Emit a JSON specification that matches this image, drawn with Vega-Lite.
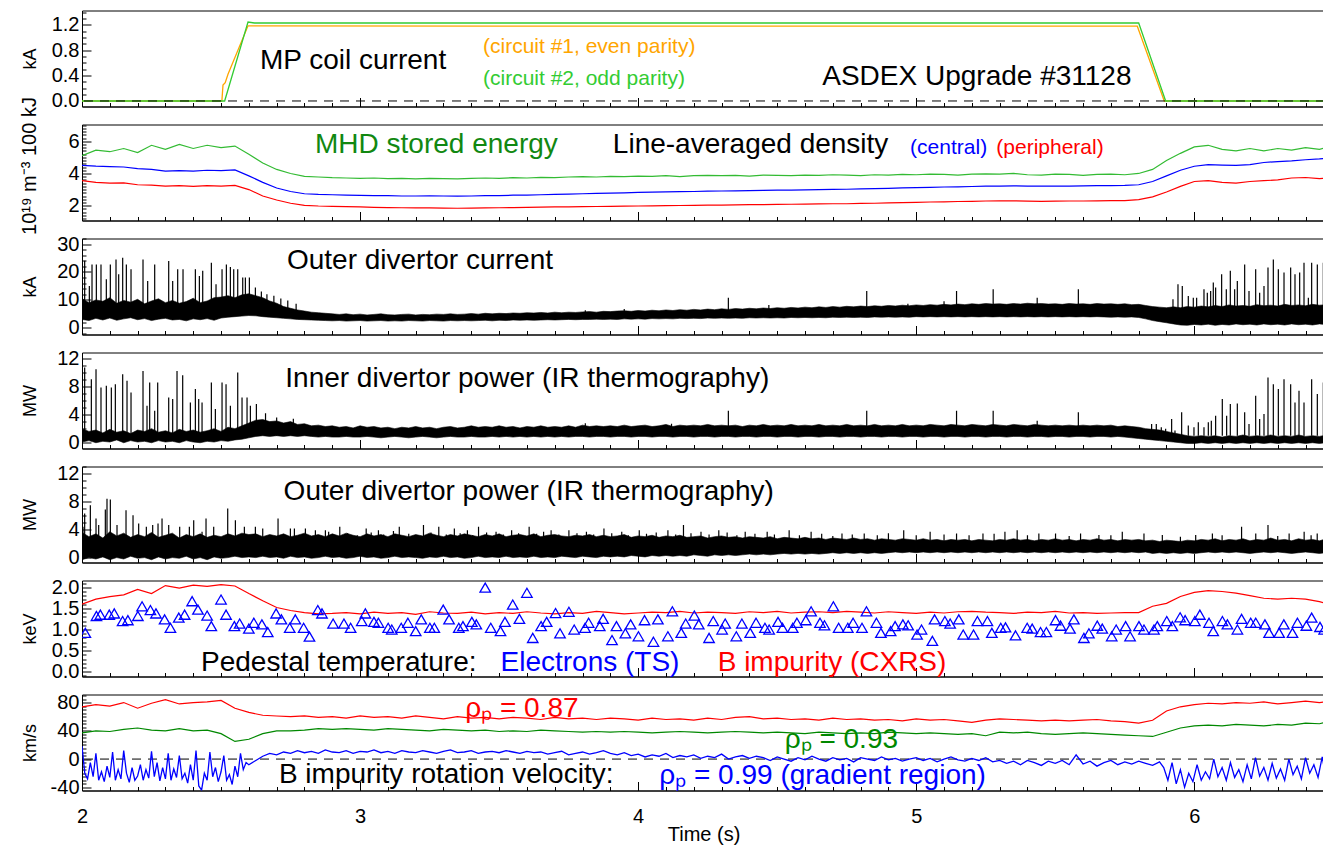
{
"$schema":"https://vega.github.io/schema/vega-lite/v6.json",
"background":"white",
"padding":{"left":18,"top":1.5,"right":0,"bottom":0},
"spacing":18,
"bounds":"flush",
"config":{
"font":"Liberation Sans",
"view":{"stroke":"black","strokeWidth":1},
"axis":{"grid":false,"domainColor":"black","tickColor":"black","labelColor":"black","titleColor":"black","labelFontSize":20,"titleFontSize":18,"titleFontWeight":"normal","labelOverlap":false},
"axisX":{"tickCount":45,"labelFlush":false,"labelPadding":25,"titleFontSize":20,"tickSize":{"condition":{"test":"abs(datum.value-round(datum.value))<0.001","value":-9},"value":-4},"labelExpr":"abs(datum.value-round(datum.value))<0.001 ? ''+round(datum.value) : ''"},
"axisY":{"titleX":-46.5,"titleBaseline":"alphabetic","labelPadding":12}
},
"datasets":{
"mp":[
{"t":2.0,"I":0,"circuit":"#1"},{"t":2.503,"I":0,"circuit":"#1"},{"t":2.507,"I":0.25,"circuit":"#1"},{"t":2.515,"I":0.29,"circuit":"#1"},{"t":2.525,"I":0.42,"circuit":"#1"},{"t":2.597,"I":1.185,"circuit":"#1"},{"t":3.5,"I":1.18,"circuit":"#1"},{"t":4.5,"I":1.18,"circuit":"#1"},{"t":5.795,"I":1.18,"circuit":"#1"},{"t":5.892,"I":0,"circuit":"#1"},{"t":6.47,"I":0,"circuit":"#1"},
{"t":2.0,"I":0,"circuit":"#2"},{"t":2.513,"I":0,"circuit":"#2"},{"t":2.597,"I":1.245,"circuit":"#2"},{"t":2.62,"I":1.23,"circuit":"#2"},{"t":5.8,"I":1.23,"circuit":"#2"},{"t":5.897,"I":0,"circuit":"#2"},{"t":6.47,"I":0,"circuit":"#2"}
],
"s":[
{"t":2.00,"W":5.10,"nc":4.50,"np":3.55,"Ti":1.60,"v87":74,"v93":37},
{"t":2.05,"W":5.45,"nc":4.45,"np":3.45,"Ti":1.72,"v87":77,"v93":40},
{"t":2.10,"W":5.35,"nc":4.42,"np":3.40,"Ti":1.78,"v87":75,"v93":39},
{"t":2.15,"W":5.55,"nc":4.40,"np":3.42,"Ti":1.82,"v87":80,"v93":42},
{"t":2.20,"W":5.30,"nc":4.30,"np":3.30,"Ti":1.95,"v87":72,"v93":44},
{"t":2.25,"W":5.75,"nc":4.25,"np":3.28,"Ti":1.85,"v87":79,"v93":41},
{"t":2.30,"W":5.50,"nc":4.15,"np":3.22,"Ti":2.04,"v87":84,"v93":40},
{"t":2.35,"W":5.80,"nc":4.18,"np":3.25,"Ti":1.98,"v87":78,"v93":43},
{"t":2.40,"W":5.55,"nc":4.14,"np":3.20,"Ti":2.05,"v87":80,"v93":40},
{"t":2.45,"W":5.75,"nc":4.20,"np":3.24,"Ti":2.02,"v87":81,"v93":41},
{"t":2.50,"W":5.60,"nc":4.18,"np":3.22,"Ti":2.06,"v87":83,"v93":36},
{"t":2.55,"W":5.70,"nc":4.22,"np":3.26,"Ti":2.03,"v87":72,"v93":25},
{"t":2.60,"W":5.20,"nc":3.85,"np":3.00,"Ti":1.85,"v87":66,"v93":28},
{"t":2.65,"W":4.65,"nc":3.45,"np":2.60,"Ti":1.68,"v87":62,"v93":36},
{"t":2.70,"W":4.25,"nc":3.10,"np":2.35,"Ti":1.52,"v87":61,"v93":40},
{"t":2.75,"W":4.00,"nc":2.88,"np":2.15,"Ti":1.45,"v87":60,"v93":40},
{"t":2.80,"W":3.82,"nc":2.74,"np":2.02,"Ti":1.40,"v87":61,"v93":41},
{"t":2.85,"W":3.78,"nc":2.70,"np":1.98,"Ti":1.37,"v87":59,"v93":43},
{"t":2.90,"W":3.74,"nc":2.68,"np":1.96,"Ti":1.38,"v87":60,"v93":42},
{"t":2.95,"W":3.72,"nc":2.66,"np":1.94,"Ti":1.40,"v87":58,"v93":43},
{"t":3.00,"W":3.70,"nc":2.64,"np":1.92,"Ti":1.37,"v87":61,"v93":42},
{"t":3.05,"W":3.72,"nc":2.62,"np":1.90,"Ti":1.41,"v87":59,"v93":41},
{"t":3.10,"W":3.68,"nc":2.62,"np":1.88,"Ti":1.38,"v87":60,"v93":43},
{"t":3.15,"W":3.70,"nc":2.60,"np":1.87,"Ti":1.40,"v87":58,"v93":42},
{"t":3.20,"W":3.66,"nc":2.60,"np":1.86,"Ti":1.36,"v87":61,"v93":41},
{"t":3.25,"W":3.70,"nc":2.61,"np":1.86,"Ti":1.42,"v87":59,"v93":40},
{"t":3.30,"W":3.68,"nc":2.60,"np":1.85,"Ti":1.39,"v87":57,"v93":42},
{"t":3.35,"W":3.66,"nc":2.59,"np":1.84,"Ti":1.38,"v87":60,"v93":41},
{"t":3.40,"W":3.70,"nc":2.60,"np":1.85,"Ti":1.41,"v87":58,"v93":40},
{"t":3.45,"W":3.72,"nc":2.62,"np":1.86,"Ti":1.37,"v87":59,"v93":41},
{"t":3.50,"W":3.70,"nc":2.63,"np":1.87,"Ti":1.40,"v87":57,"v93":39},
{"t":3.55,"W":3.74,"nc":2.65,"np":1.88,"Ti":1.38,"v87":59,"v93":40},
{"t":3.60,"W":3.72,"nc":2.66,"np":1.90,"Ti":1.42,"v87":58,"v93":39},
{"t":3.65,"W":3.76,"nc":2.68,"np":1.91,"Ti":1.39,"v87":56,"v93":41},
{"t":3.70,"W":3.74,"nc":2.70,"np":1.92,"Ti":1.37,"v87":59,"v93":40},
{"t":3.75,"W":3.78,"nc":2.72,"np":1.93,"Ti":1.40,"v87":57,"v93":39},
{"t":3.80,"W":3.80,"nc":2.74,"np":1.94,"Ti":1.38,"v87":58,"v93":38},
{"t":3.85,"W":3.78,"nc":2.76,"np":1.95,"Ti":1.43,"v87":56,"v93":39},
{"t":3.90,"W":3.82,"nc":2.78,"np":1.96,"Ti":1.40,"v87":58,"v93":38},
{"t":3.95,"W":3.80,"nc":2.80,"np":1.97,"Ti":1.37,"v87":57,"v93":39},
{"t":4.00,"W":3.84,"nc":2.82,"np":1.98,"Ti":1.39,"v87":55,"v93":38},
{"t":4.05,"W":3.82,"nc":2.84,"np":1.99,"Ti":1.41,"v87":58,"v93":37},
{"t":4.10,"W":3.86,"nc":2.86,"np":2.00,"Ti":1.40,"v87":56,"v93":38},
{"t":4.15,"W":3.80,"nc":2.87,"np":2.01,"Ti":1.43,"v87":57,"v93":39},
{"t":4.20,"W":3.86,"nc":2.88,"np":2.02,"Ti":1.39,"v87":55,"v93":38},
{"t":4.25,"W":3.88,"nc":2.90,"np":2.03,"Ti":1.41,"v87":58,"v93":37},
{"t":4.30,"W":3.86,"nc":2.91,"np":2.04,"Ti":1.40,"v87":56,"v93":38},
{"t":4.35,"W":3.88,"nc":2.92,"np":2.05,"Ti":1.38,"v87":59,"v93":39},
{"t":4.40,"W":3.84,"nc":2.94,"np":2.06,"Ti":1.42,"v87":60,"v93":38},
{"t":4.45,"W":3.90,"nc":2.95,"np":2.07,"Ti":1.40,"v87":57,"v93":37},
{"t":4.50,"W":3.88,"nc":2.96,"np":2.08,"Ti":1.43,"v87":58,"v93":38},
{"t":4.55,"W":3.86,"nc":2.97,"np":2.09,"Ti":1.39,"v87":56,"v93":37},
{"t":4.60,"W":3.90,"nc":2.98,"np":2.10,"Ti":1.41,"v87":57,"v93":36},
{"t":4.65,"W":3.88,"nc":3.00,"np":2.11,"Ti":1.42,"v87":55,"v93":38},
{"t":4.70,"W":3.92,"nc":3.01,"np":2.12,"Ti":1.40,"v87":58,"v93":37},
{"t":4.75,"W":3.90,"nc":3.02,"np":2.12,"Ti":1.43,"v87":56,"v93":36},
{"t":4.80,"W":3.86,"nc":3.04,"np":2.14,"Ti":1.41,"v87":57,"v93":37},
{"t":4.85,"W":3.92,"nc":3.06,"np":2.15,"Ti":1.39,"v87":55,"v93":36},
{"t":4.90,"W":3.90,"nc":3.08,"np":2.17,"Ti":1.42,"v87":56,"v93":38},
{"t":4.95,"W":3.94,"nc":3.10,"np":2.19,"Ti":1.40,"v87":54,"v93":37},
{"t":5.00,"W":3.92,"nc":3.12,"np":2.21,"Ti":1.38,"v87":57,"v93":36},
{"t":5.05,"W":3.96,"nc":3.14,"np":2.23,"Ti":1.41,"v87":55,"v93":37},
{"t":5.10,"W":3.94,"nc":3.16,"np":2.24,"Ti":1.39,"v87":56,"v93":36},
{"t":5.15,"W":3.90,"nc":3.17,"np":2.26,"Ti":1.42,"v87":54,"v93":35},
{"t":5.20,"W":3.96,"nc":3.19,"np":2.27,"Ti":1.43,"v87":52,"v93":36},
{"t":5.25,"W":3.98,"nc":3.21,"np":2.29,"Ti":1.41,"v87":55,"v93":33},
{"t":5.30,"W":3.96,"nc":3.22,"np":2.30,"Ti":1.40,"v87":57,"v93":38},
{"t":5.35,"W":4.00,"nc":3.23,"np":2.30,"Ti":1.38,"v87":56,"v93":37},
{"t":5.40,"W":3.92,"nc":3.22,"np":2.28,"Ti":1.41,"v87":55,"v93":38},
{"t":5.45,"W":3.90,"nc":3.21,"np":2.27,"Ti":1.40,"v87":54,"v93":36},
{"t":5.50,"W":3.96,"nc":3.22,"np":2.28,"Ti":1.43,"v87":55,"v93":35},
{"t":5.55,"W":3.94,"nc":3.22,"np":2.29,"Ti":1.39,"v87":54,"v93":36},
{"t":5.60,"W":3.88,"nc":3.23,"np":2.29,"Ti":1.40,"v87":55,"v93":37},
{"t":5.65,"W":3.94,"nc":3.24,"np":2.30,"Ti":1.38,"v87":56,"v93":36},
{"t":5.70,"W":3.96,"nc":3.25,"np":2.31,"Ti":1.39,"v87":54,"v93":35},
{"t":5.75,"W":3.92,"nc":3.26,"np":2.32,"Ti":1.40,"v87":53,"v93":34},
{"t":5.80,"W":4.00,"nc":3.30,"np":2.38,"Ti":1.40,"v87":51,"v93":33},
{"t":5.85,"W":4.25,"nc":3.50,"np":2.55,"Ti":1.55,"v87":55,"v93":32},
{"t":5.90,"W":4.80,"nc":3.85,"np":2.85,"Ti":1.62,"v87":68,"v93":38},
{"t":5.95,"W":5.25,"nc":4.20,"np":3.20,"Ti":1.78,"v87":74,"v93":44},
{"t":6.00,"W":5.65,"nc":4.45,"np":3.50,"Ti":1.88,"v87":77,"v93":47},
{"t":6.05,"W":5.75,"nc":4.55,"np":3.55,"Ti":1.92,"v87":79,"v93":48},
{"t":6.10,"W":5.50,"nc":4.52,"np":3.45,"Ti":1.90,"v87":78,"v93":47},
{"t":6.15,"W":5.40,"nc":4.50,"np":3.40,"Ti":1.86,"v87":80,"v93":49},
{"t":6.20,"W":5.55,"nc":4.55,"np":3.50,"Ti":1.80,"v87":79,"v93":48},
{"t":6.25,"W":5.40,"nc":4.68,"np":3.55,"Ti":1.74,"v87":81,"v93":47},
{"t":6.30,"W":5.55,"nc":4.74,"np":3.60,"Ti":1.72,"v87":78,"v93":49},
{"t":6.35,"W":5.45,"nc":4.78,"np":3.72,"Ti":1.74,"v87":80,"v93":48},
{"t":6.40,"W":5.60,"nc":4.85,"np":3.75,"Ti":1.72,"v87":82,"v93":51},
{"t":6.45,"W":5.50,"nc":4.90,"np":3.68,"Ti":1.66,"v87":80,"v93":50},
{"t":6.47,"W":5.58,"nc":4.93,"np":3.70,"Ti":1.62,"v87":81,"v93":52}
],
"vb":[
{"t":2.00,"v":18},{"t":2.01,"v":-20},{"t":2.02,"v":-28},{"t":2.03,"v":-5},{"t":2.04,"v":-25},{"t":2.05,"v":8},{"t":2.06,"v":-30},{"t":2.07,"v":-18},{"t":2.08,"v":-32},{"t":2.09,"v":-10},
{"t":2.10,"v":-26},{"t":2.11,"v":10},{"t":2.12,"v":-30},{"t":2.13,"v":-15},{"t":2.14,"v":-28},{"t":2.15,"v":12},{"t":2.16,"v":-20},{"t":2.17,"v":-33},{"t":2.18,"v":-12},{"t":2.19,"v":-30},
{"t":2.20,"v":-24},{"t":2.21,"v":-8},{"t":2.22,"v":-30},{"t":2.23,"v":-15},{"t":2.24,"v":-27},{"t":2.25,"v":11},{"t":2.26,"v":-25},{"t":2.27,"v":-5},{"t":2.28,"v":-31},{"t":2.29,"v":-12},
{"t":2.30,"v":-28},{"t":2.31,"v":8},{"t":2.32,"v":-30},{"t":2.33,"v":-14},{"t":2.34,"v":-26},{"t":2.35,"v":5},{"t":2.36,"v":-28},{"t":2.37,"v":-20},{"t":2.38,"v":-34},{"t":2.39,"v":-8},
{"t":2.40,"v":-30},{"t":2.41,"v":12},{"t":2.42,"v":-38},{"t":2.43,"v":-44},{"t":2.44,"v":-20},{"t":2.45,"v":-30},{"t":2.46,"v":10},{"t":2.47,"v":-25},{"t":2.48,"v":-12},{"t":2.49,"v":-32},
{"t":2.50,"v":-18},{"t":2.51,"v":5},{"t":2.52,"v":-30},{"t":2.53,"v":-22},{"t":2.54,"v":-36},{"t":2.55,"v":-10},{"t":2.56,"v":-25},{"t":2.57,"v":8},{"t":2.58,"v":-15},{"t":2.59,"v":-5},
{"t":2.600,"v":-8},{"t":2.625,"v":-2},{"t":2.650,"v":4},{"t":2.675,"v":8},{"t":2.700,"v":6},{"t":2.725,"v":10},{"t":2.750,"v":8},{"t":2.775,"v":12},{"t":2.800,"v":9},{"t":2.825,"v":11},
{"t":2.850,"v":8},{"t":2.875,"v":13},{"t":2.900,"v":10},{"t":2.925,"v":9},{"t":2.950,"v":12},{"t":2.975,"v":8},{"t":3.000,"v":11},{"t":3.025,"v":10},{"t":3.050,"v":13},{"t":3.075,"v":9},
{"t":3.100,"v":11},{"t":3.125,"v":8},{"t":3.150,"v":12},{"t":3.175,"v":10},{"t":3.200,"v":9},{"t":3.225,"v":12},{"t":3.250,"v":10},{"t":3.275,"v":8},{"t":3.300,"v":11},{"t":3.325,"v":13},
{"t":3.350,"v":9},{"t":3.375,"v":10},{"t":3.400,"v":12},{"t":3.425,"v":8},{"t":3.450,"v":10},{"t":3.475,"v":11},{"t":3.500,"v":9},{"t":3.525,"v":12},{"t":3.550,"v":10},{"t":3.575,"v":8},
{"t":3.600,"v":11},{"t":3.625,"v":9},{"t":3.650,"v":10},{"t":3.675,"v":7},{"t":3.700,"v":9},{"t":3.725,"v":11},{"t":3.750,"v":6},{"t":3.775,"v":8},{"t":3.800,"v":10},{"t":3.825,"v":7},
{"t":3.850,"v":9},{"t":3.875,"v":12},{"t":3.900,"v":8},{"t":3.925,"v":6},{"t":3.950,"v":9},{"t":3.975,"v":5},{"t":4.000,"v":7},{"t":4.025,"v":3},{"t":4.050,"v":6},{"t":4.075,"v":4},
{"t":4.100,"v":8},{"t":4.125,"v":2},{"t":4.150,"v":5},{"t":4.175,"v":3},{"t":4.200,"v":6},{"t":4.225,"v":1},{"t":4.250,"v":4},{"t":4.275,"v":2},{"t":4.300,"v":7},{"t":4.325,"v":0},
{"t":4.350,"v":3},{"t":4.375,"v":5},{"t":4.400,"v":1},{"t":4.425,"v":4},{"t":4.450,"v":2},{"t":4.475,"v":-2},{"t":4.500,"v":3},{"t":4.525,"v":0},{"t":4.550,"v":-3},{"t":4.575,"v":2},
{"t":4.600,"v":-1},{"t":4.625,"v":4},{"t":4.650,"v":0},{"t":4.675,"v":-3},{"t":4.700,"v":2},{"t":4.725,"v":-1},{"t":4.750,"v":1},{"t":4.775,"v":-4},{"t":4.800,"v":2},{"t":4.825,"v":0},
{"t":4.850,"v":-2},{"t":4.875,"v":3},{"t":4.900,"v":-1},{"t":4.925,"v":1},{"t":4.950,"v":-3},{"t":4.975,"v":0},{"t":5.000,"v":2},{"t":5.025,"v":-2},{"t":5.050,"v":1},{"t":5.075,"v":-4},
{"t":5.100,"v":0},{"t":5.125,"v":3},{"t":5.150,"v":-1},{"t":5.175,"v":-3},{"t":5.200,"v":1},{"t":5.225,"v":-2},{"t":5.250,"v":2},{"t":5.275,"v":-4},{"t":5.300,"v":-2},{"t":5.325,"v":-6},
{"t":5.350,"v":-3},{"t":5.375,"v":-8},{"t":5.400,"v":-2},{"t":5.425,"v":-5},{"t":5.450,"v":-9},{"t":5.475,"v":-3},{"t":5.500,"v":-6},{"t":5.525,"v":-2},{"t":5.550,"v":-8},{"t":5.575,"v":6},
{"t":5.600,"v":-7},{"t":5.625,"v":-3},{"t":5.650,"v":-10},{"t":5.675,"v":-5},{"t":5.700,"v":-2},{"t":5.725,"v":-8},{"t":5.750,"v":-4},{"t":5.775,"v":-7},{"t":5.800,"v":-3},{"t":5.825,"v":-6},
{"t":5.850,"v":-9},{"t":5.875,"v":-4},
{"t":5.890,"v":-12},{"t":5.905,"v":-30},{"t":5.920,"v":-5},{"t":5.935,"v":-35},{"t":5.950,"v":-15},{"t":5.965,"v":-40},{"t":5.980,"v":-20},{"t":5.995,"v":-32},{"t":6.010,"v":-8},{"t":6.025,"v":-30},
{"t":6.040,"v":-18},{"t":6.055,"v":-28},{"t":6.070,"v":0},{"t":6.085,"v":-25},{"t":6.100,"v":-12},{"t":6.115,"v":-30},{"t":6.130,"v":-5},{"t":6.145,"v":-26},{"t":6.160,"v":-15},{"t":6.175,"v":-32},
{"t":6.190,"v":-8},{"t":6.205,"v":-28},{"t":6.220,"v":2},{"t":6.235,"v":-24},{"t":6.250,"v":-12},{"t":6.265,"v":-30},{"t":6.280,"v":-6},{"t":6.295,"v":-27},{"t":6.310,"v":-14},{"t":6.325,"v":-30},
{"t":6.340,"v":0},{"t":6.355,"v":-22},{"t":6.370,"v":-10},{"t":6.385,"v":-28},{"t":6.400,"v":2},{"t":6.415,"v":-20},{"t":6.430,"v":-8},{"t":6.445,"v":-26},{"t":6.460,"v":3},{"t":6.470,"v":-18}
],
"b":[
{"t":2.000,"c1":3.0,"c2":10.5,"i1":0.1,"i2":2.0,"o1":-0.3,"o2":3.6},
{"t":2.025,"c1":2.6,"c2":9.0,"i1":0.3,"i2":1.6,"o1":0.0,"o2":3.0},
{"t":2.050,"c1":3.4,"c2":10.0,"i1":0.0,"i2":1.8,"o1":-0.2,"o2":3.4},
{"t":2.075,"c1":2.8,"c2":9.5,"i1":0.2,"i2":1.4,"o1":0.1,"o2":2.8},
{"t":2.100,"c1":3.5,"c2":10.8,"i1":0.1,"i2":1.9,"o1":-0.3,"o2":3.7},
{"t":2.125,"c1":2.7,"c2":8.8,"i1":0.4,"i2":1.5,"o1":0.0,"o2":3.1},
{"t":2.150,"c1":3.2,"c2":9.8,"i1":0.0,"i2":1.7,"o1":-0.2,"o2":3.5},
{"t":2.175,"c1":3.6,"c2":9.2,"i1":0.3,"i2":1.3,"o1":0.2,"o2":2.9},
{"t":2.200,"c1":2.9,"c2":10.2,"i1":0.1,"i2":1.8,"o1":-0.1,"o2":3.3},
{"t":2.225,"c1":3.3,"c2":8.6,"i1":0.2,"i2":1.6,"o1":0.0,"o2":3.0},
{"t":2.250,"c1":2.6,"c2":9.6,"i1":0.0,"i2":2.0,"o1":-0.3,"o2":3.6},
{"t":2.275,"c1":3.1,"c2":10.4,"i1":0.3,"i2":1.5,"o1":0.1,"o2":2.9},
{"t":2.300,"c1":3.4,"c2":9.0,"i1":0.1,"i2":1.7,"o1":-0.2,"o2":3.2},
{"t":2.325,"c1":2.8,"c2":9.8,"i1":0.2,"i2":1.4,"o1":0.0,"o2":3.5},
{"t":2.350,"c1":3.0,"c2":8.8,"i1":0.0,"i2":1.9,"o1":-0.1,"o2":2.8},
{"t":2.375,"c1":2.5,"c2":9.4,"i1":0.3,"i2":1.6,"o1":0.2,"o2":3.3},
{"t":2.400,"c1":3.2,"c2":10.6,"i1":0.1,"i2":1.8,"o1":-0.2,"o2":3.0},
{"t":2.425,"c1":2.9,"c2":9.0,"i1":0.0,"i2":1.5,"o1":0.0,"o2":3.4},
{"t":2.450,"c1":3.3,"c2":9.6,"i1":0.2,"i2":1.7,"o1":-0.3,"o2":2.9},
{"t":2.475,"c1":2.7,"c2":10.8,"i1":0.1,"i2":2.0,"o1":0.1,"o2":3.2},
{"t":2.500,"c1":3.5,"c2":11.0,"i1":0.3,"i2":1.6,"o1":-0.1,"o2":3.0},
{"t":2.525,"c1":3.8,"c2":11.5,"i1":0.2,"i2":2.2,"o1":0.0,"o2":3.4},
{"t":2.550,"c1":4.0,"c2":10.8,"i1":0.4,"i2":2.0,"o1":0.2,"o2":3.1},
{"t":2.575,"c1":4.2,"c2":11.8,"i1":0.5,"i2":2.4,"o1":0.0,"o2":3.5},
{"t":2.600,"c1":4.4,"c2":12.2,"i1":0.7,"i2":2.8,"o1":0.1,"o2":3.3},
{"t":2.625,"c1":4.3,"c2":11.5,"i1":0.9,"i2":3.2,"o1":0.0,"o2":3.4},
{"t":2.650,"c1":4.0,"c2":10.8,"i1":1.0,"i2":3.3,"o1":0.2,"o2":3.0},
{"t":2.675,"c1":3.8,"c2":9.6,"i1":0.9,"i2":3.0,"o1":0.0,"o2":3.3},
{"t":2.700,"c1":3.6,"c2":8.8,"i1":1.0,"i2":3.1,"o1":0.1,"o2":3.1},
{"t":2.725,"c1":3.4,"c2":7.6,"i1":0.9,"i2":2.8,"o1":-0.1,"o2":3.4},
{"t":2.750,"c1":3.2,"c2":7.0,"i1":1.0,"i2":3.0,"o1":0.2,"o2":3.0},
{"t":2.775,"c1":3.0,"c2":6.4,"i1":0.9,"i2":2.6,"o1":0.0,"o2":3.2},
{"t":2.800,"c1":2.9,"c2":6.0,"i1":1.0,"i2":2.7,"o1":0.1,"o2":3.5},
{"t":2.825,"c1":2.8,"c2":5.6,"i1":0.9,"i2":2.4,"o1":-0.1,"o2":3.1},
{"t":2.850,"c1":2.7,"c2":5.4,"i1":0.8,"i2":2.5,"o1":0.0,"o2":3.3},
{"t":2.875,"c1":2.6,"c2":5.2,"i1":0.9,"i2":2.3,"o1":0.2,"o2":3.0},
{"t":2.900,"c1":2.5,"c2":5.0,"i1":0.8,"i2":2.4,"o1":0.0,"o2":3.4},
{"t":2.925,"c1":2.6,"c2":4.8,"i1":0.8,"i2":2.2,"o1":0.1,"o2":3.1},
{"t":2.950,"c1":2.4,"c2":5.0,"i1":0.9,"i2":2.3,"o1":-0.1,"o2":3.5},
{"t":2.975,"c1":2.5,"c2":4.7,"i1":0.8,"i2":2.1,"o1":0.0,"o2":3.2},
{"t":3.000,"c1":2.6,"c2":4.9,"i1":0.8,"i2":2.4,"o1":0.2,"o2":3.0},
{"t":3.025,"c1":2.4,"c2":4.6,"i1":0.9,"i2":2.2,"o1":0.0,"o2":3.4},
{"t":3.050,"c1":2.5,"c2":4.8,"i1":0.8,"i2":2.3,"o1":0.1,"o2":3.1},
{"t":3.075,"c1":2.6,"c2":5.0,"i1":0.7,"i2":2.1,"o1":-0.1,"o2":3.3},
{"t":3.100,"c1":2.4,"c2":4.7,"i1":0.8,"i2":2.2,"o1":0.0,"o2":3.0},
{"t":3.125,"c1":2.5,"c2":4.6,"i1":0.9,"i2":2.0,"o1":0.2,"o2":3.4},
{"t":3.150,"c1":2.4,"c2":4.8,"i1":0.8,"i2":2.2,"o1":0.0,"o2":3.2},
{"t":3.175,"c1":2.6,"c2":4.9,"i1":0.7,"i2":2.1,"o1":0.1,"o2":3.0},
{"t":3.200,"c1":2.5,"c2":4.6,"i1":0.8,"i2":2.3,"o1":0.0,"o2":3.3},
{"t":3.225,"c1":2.4,"c2":4.8,"i1":0.9,"i2":2.1,"o1":-0.1,"o2":3.1},
{"t":3.250,"c1":2.6,"c2":4.7,"i1":0.8,"i2":2.2,"o1":0.1,"o2":3.5},
{"t":3.275,"c1":2.5,"c2":4.9,"i1":0.7,"i2":2.0,"o1":0.0,"o2":3.2},
{"t":3.300,"c1":2.4,"c2":4.8,"i1":0.8,"i2":2.2,"o1":0.2,"o2":3.0},
{"t":3.325,"c1":2.6,"c2":5.0,"i1":0.9,"i2":2.3,"o1":0.0,"o2":3.3},
{"t":3.350,"c1":2.5,"c2":4.8,"i1":0.8,"i2":2.1,"o1":0.1,"o2":3.1},
{"t":3.375,"c1":2.6,"c2":4.9,"i1":0.8,"i2":2.2,"o1":-0.1,"o2":3.4},
{"t":3.400,"c1":2.5,"c2":5.1,"i1":0.9,"i2":2.4,"o1":0.0,"o2":3.2},
{"t":3.425,"c1":2.6,"c2":4.9,"i1":0.8,"i2":2.2,"o1":0.2,"o2":3.0},
{"t":3.450,"c1":2.7,"c2":5.2,"i1":0.8,"i2":2.3,"o1":0.0,"o2":3.3},
{"t":3.475,"c1":2.5,"c2":5.0,"i1":0.9,"i2":2.2,"o1":0.1,"o2":3.1},
{"t":3.500,"c1":2.7,"c2":5.2,"i1":0.8,"i2":2.4,"o1":0.0,"o2":3.4},
{"t":3.525,"c1":2.6,"c2":5.1,"i1":0.9,"i2":2.2,"o1":0.2,"o2":3.0},
{"t":3.550,"c1":2.8,"c2":5.3,"i1":0.8,"i2":2.3,"o1":0.0,"o2":3.2},
{"t":3.575,"c1":2.7,"c2":5.2,"i1":0.9,"i2":2.1,"o1":0.1,"o2":3.3},
{"t":3.600,"c1":2.8,"c2":5.4,"i1":0.8,"i2":2.3,"o1":0.0,"o2":3.1},
{"t":3.625,"c1":2.7,"c2":5.3,"i1":0.9,"i2":2.2,"o1":0.2,"o2":3.4},
{"t":3.650,"c1":2.8,"c2":5.5,"i1":0.8,"i2":2.4,"o1":0.0,"o2":3.0},
{"t":3.675,"c1":2.9,"c2":5.3,"i1":0.9,"i2":2.2,"o1":0.1,"o2":3.2},
{"t":3.700,"c1":2.8,"c2":5.6,"i1":0.8,"i2":2.3,"o1":0.0,"o2":3.3},
{"t":3.725,"c1":2.9,"c2":5.4,"i1":0.9,"i2":2.2,"o1":0.2,"o2":3.1},
{"t":3.750,"c1":3.0,"c2":5.6,"i1":0.8,"i2":2.4,"o1":0.1,"o2":3.0},
{"t":3.775,"c1":2.9,"c2":5.5,"i1":0.9,"i2":2.2,"o1":0.0,"o2":3.2},
{"t":3.800,"c1":3.0,"c2":5.7,"i1":0.9,"i2":2.5,"o1":0.2,"o2":3.1},
{"t":3.825,"c1":3.0,"c2":5.8,"i1":0.8,"i2":2.3,"o1":0.1,"o2":3.3},
{"t":3.850,"c1":3.1,"c2":5.6,"i1":0.9,"i2":2.4,"o1":0.0,"o2":3.0},
{"t":3.875,"c1":3.0,"c2":5.9,"i1":0.9,"i2":2.3,"o1":0.2,"o2":3.2},
{"t":3.900,"c1":3.1,"c2":5.8,"i1":0.8,"i2":2.4,"o1":0.1,"o2":3.0},
{"t":3.925,"c1":3.0,"c2":6.0,"i1":0.9,"i2":2.3,"o1":0.2,"o2":3.1},
{"t":3.950,"c1":3.2,"c2":6.1,"i1":0.9,"i2":2.5,"o1":0.1,"o2":3.3},
{"t":3.975,"c1":3.1,"c2":5.9,"i1":0.8,"i2":2.3,"o1":0.3,"o2":2.9},
{"t":4.000,"c1":3.2,"c2":6.2,"i1":0.9,"i2":2.4,"o1":0.2,"o2":3.1},
{"t":4.025,"c1":3.1,"c2":6.0,"i1":0.9,"i2":2.5,"o1":0.1,"o2":3.0},
{"t":4.050,"c1":3.3,"c2":6.3,"i1":0.8,"i2":2.3,"o1":0.3,"o2":3.2},
{"t":4.075,"c1":3.2,"c2":6.1,"i1":0.9,"i2":2.4,"o1":0.2,"o2":2.9},
{"t":4.100,"c1":3.3,"c2":6.4,"i1":0.9,"i2":2.6,"o1":0.3,"o2":3.1},
{"t":4.125,"c1":3.2,"c2":6.2,"i1":0.8,"i2":2.3,"o1":0.2,"o2":3.0},
{"t":4.150,"c1":3.4,"c2":6.5,"i1":0.9,"i2":2.5,"o1":0.3,"o2":3.2},
{"t":4.175,"c1":3.3,"c2":6.3,"i1":0.9,"i2":2.4,"o1":0.2,"o2":2.9},
{"t":4.200,"c1":3.4,"c2":6.6,"i1":0.8,"i2":2.5,"o1":0.4,"o2":3.0},
{"t":4.225,"c1":3.3,"c2":6.4,"i1":0.9,"i2":2.4,"o1":0.3,"o2":3.1},
{"t":4.250,"c1":3.5,"c2":6.7,"i1":0.9,"i2":2.6,"o1":0.2,"o2":2.8},
{"t":4.275,"c1":3.4,"c2":6.5,"i1":0.8,"i2":2.4,"o1":0.4,"o2":3.0},
{"t":4.300,"c1":3.5,"c2":6.8,"i1":0.9,"i2":2.5,"o1":0.3,"o2":3.1},
{"t":4.325,"c1":3.4,"c2":6.6,"i1":0.9,"i2":2.4,"o1":0.4,"o2":2.9},
{"t":4.350,"c1":3.5,"c2":6.9,"i1":0.8,"i2":2.5,"o1":0.3,"o2":3.0},
{"t":4.375,"c1":3.4,"c2":6.7,"i1":0.9,"i2":2.3,"o1":0.4,"o2":2.8},
{"t":4.400,"c1":3.6,"c2":7.0,"i1":0.9,"i2":2.5,"o1":0.5,"o2":3.0},
{"t":4.425,"c1":3.5,"c2":6.8,"i1":0.8,"i2":2.4,"o1":0.4,"o2":2.9},
{"t":4.450,"c1":3.6,"c2":7.1,"i1":0.9,"i2":2.6,"o1":0.5,"o2":2.8},
{"t":4.475,"c1":3.5,"c2":6.9,"i1":0.9,"i2":2.4,"o1":0.4,"o2":3.0},
{"t":4.500,"c1":3.6,"c2":7.2,"i1":0.8,"i2":2.5,"o1":0.5,"o2":2.7},
{"t":4.525,"c1":3.5,"c2":7.0,"i1":0.9,"i2":2.4,"o1":0.6,"o2":2.9},
{"t":4.550,"c1":3.7,"c2":7.3,"i1":0.9,"i2":2.6,"o1":0.5,"o2":2.8},
{"t":4.575,"c1":3.6,"c2":7.1,"i1":0.8,"i2":2.4,"o1":0.6,"o2":2.7},
{"t":4.600,"c1":3.7,"c2":7.4,"i1":0.9,"i2":2.5,"o1":0.5,"o2":2.9},
{"t":4.625,"c1":3.6,"c2":7.2,"i1":0.9,"i2":2.4,"o1":0.6,"o2":2.7},
{"t":4.650,"c1":3.7,"c2":7.5,"i1":0.8,"i2":2.6,"o1":0.5,"o2":2.8},
{"t":4.675,"c1":3.6,"c2":7.3,"i1":0.9,"i2":2.4,"o1":0.6,"o2":2.6},
{"t":4.700,"c1":3.8,"c2":7.6,"i1":0.9,"i2":2.5,"o1":0.7,"o2":2.8},
{"t":4.725,"c1":3.7,"c2":7.4,"i1":0.8,"i2":2.4,"o1":0.6,"o2":2.7},
{"t":4.750,"c1":3.8,"c2":7.7,"i1":0.9,"i2":2.6,"o1":0.7,"o2":2.6},
{"t":4.775,"c1":3.7,"c2":7.5,"i1":0.9,"i2":2.4,"o1":0.6,"o2":2.8},
{"t":4.800,"c1":3.8,"c2":7.8,"i1":0.8,"i2":2.5,"o1":0.7,"o2":2.6},
{"t":4.825,"c1":3.7,"c2":7.6,"i1":0.9,"i2":2.4,"o1":0.6,"o2":2.7},
{"t":4.850,"c1":3.9,"c2":7.9,"i1":0.9,"i2":2.6,"o1":0.7,"o2":2.5},
{"t":4.875,"c1":3.8,"c2":7.7,"i1":0.8,"i2":2.4,"o1":0.6,"o2":2.7},
{"t":4.900,"c1":3.9,"c2":8.0,"i1":0.9,"i2":2.5,"o1":0.7,"o2":2.6},
{"t":4.925,"c1":3.8,"c2":7.8,"i1":0.9,"i2":2.4,"o1":0.8,"o2":2.5},
{"t":4.950,"c1":3.9,"c2":8.1,"i1":0.8,"i2":2.6,"o1":0.7,"o2":2.7},
{"t":4.975,"c1":3.8,"c2":7.9,"i1":0.9,"i2":2.4,"o1":0.8,"o2":2.6},
{"t":5.000,"c1":4.0,"c2":8.2,"i1":0.9,"i2":2.5,"o1":0.7,"o2":2.5},
{"t":5.025,"c1":3.9,"c2":8.0,"i1":0.8,"i2":2.4,"o1":0.8,"o2":2.7},
{"t":5.050,"c1":4.0,"c2":8.3,"i1":0.9,"i2":2.6,"o1":0.7,"o2":2.5},
{"t":5.075,"c1":3.9,"c2":8.1,"i1":0.9,"i2":2.5,"o1":0.8,"o2":2.6},
{"t":5.100,"c1":4.0,"c2":8.4,"i1":0.8,"i2":2.4,"o1":0.7,"o2":2.4},
{"t":5.125,"c1":3.9,"c2":8.2,"i1":0.9,"i2":2.6,"o1":0.8,"o2":2.6},
{"t":5.150,"c1":4.0,"c2":8.5,"i1":0.9,"i2":2.5,"o1":0.7,"o2":2.5},
{"t":5.175,"c1":3.9,"c2":8.3,"i1":0.8,"i2":2.4,"o1":0.8,"o2":2.6},
{"t":5.200,"c1":4.0,"c2":8.6,"i1":0.9,"i2":2.6,"o1":0.7,"o2":2.4},
{"t":5.225,"c1":3.9,"c2":8.4,"i1":0.9,"i2":2.5,"o1":0.8,"o2":2.6},
{"t":5.250,"c1":4.0,"c2":8.7,"i1":0.8,"i2":2.4,"o1":0.7,"o2":2.5},
{"t":5.275,"c1":3.9,"c2":8.5,"i1":0.9,"i2":2.6,"o1":0.8,"o2":2.4},
{"t":5.300,"c1":4.0,"c2":8.6,"i1":0.9,"i2":2.5,"o1":0.7,"o2":2.6},
{"t":5.325,"c1":3.9,"c2":8.4,"i1":0.8,"i2":2.4,"o1":0.8,"o2":2.5},
{"t":5.350,"c1":4.0,"c2":8.7,"i1":0.9,"i2":2.6,"o1":0.7,"o2":2.7},
{"t":5.375,"c1":3.9,"c2":8.5,"i1":0.9,"i2":2.5,"o1":0.8,"o2":2.5},
{"t":5.400,"c1":4.0,"c2":8.8,"i1":0.8,"i2":2.4,"o1":0.7,"o2":2.6},
{"t":5.425,"c1":3.9,"c2":8.6,"i1":0.9,"i2":2.6,"o1":0.8,"o2":2.4},
{"t":5.450,"c1":4.0,"c2":8.7,"i1":0.9,"i2":2.5,"o1":0.7,"o2":2.6},
{"t":5.475,"c1":3.9,"c2":8.5,"i1":0.8,"i2":2.4,"o1":0.8,"o2":2.5},
{"t":5.500,"c1":4.0,"c2":8.6,"i1":0.9,"i2":2.5,"o1":0.7,"o2":2.7},
{"t":5.525,"c1":3.9,"c2":8.4,"i1":0.9,"i2":2.4,"o1":0.8,"o2":2.5},
{"t":5.550,"c1":4.0,"c2":8.7,"i1":0.8,"i2":2.5,"o1":0.7,"o2":2.6},
{"t":5.575,"c1":3.9,"c2":8.5,"i1":0.9,"i2":2.4,"o1":0.8,"o2":2.4},
{"t":5.600,"c1":4.0,"c2":8.6,"i1":0.9,"i2":2.5,"o1":0.7,"o2":2.6},
{"t":5.625,"c1":3.9,"c2":8.4,"i1":0.8,"i2":2.4,"o1":0.8,"o2":2.5},
{"t":5.650,"c1":4.0,"c2":8.7,"i1":0.9,"i2":2.5,"o1":0.7,"o2":2.7},
{"t":5.675,"c1":3.9,"c2":8.5,"i1":0.9,"i2":2.4,"o1":0.8,"o2":2.5},
{"t":5.700,"c1":3.8,"c2":8.6,"i1":0.8,"i2":2.5,"o1":0.7,"o2":2.6},
{"t":5.725,"c1":3.9,"c2":8.4,"i1":0.9,"i2":2.3,"o1":0.8,"o2":2.4},
{"t":5.750,"c1":3.8,"c2":8.6,"i1":0.8,"i2":2.4,"o1":0.7,"o2":2.6},
{"t":5.775,"c1":3.9,"c2":8.3,"i1":0.7,"i2":2.3,"o1":0.8,"o2":2.5},
{"t":5.800,"c1":3.7,"c2":8.4,"i1":0.6,"i2":2.2,"o1":0.7,"o2":2.6},
{"t":5.825,"c1":3.2,"c2":8.0,"i1":0.5,"i2":2.0,"o1":0.8,"o2":2.4},
{"t":5.850,"c1":2.6,"c2":7.6,"i1":0.4,"i2":1.9,"o1":0.6,"o2":2.5},
{"t":5.875,"c1":2.2,"c2":7.4,"i1":0.3,"i2":1.8,"o1":0.7,"o2":2.3},
{"t":5.900,"c1":1.8,"c2":7.2,"i1":0.2,"i2":1.6,"o1":0.6,"o2":2.5},
{"t":5.925,"c1":1.4,"c2":7.5,"i1":0.1,"i2":1.4,"o1":0.7,"o2":2.4},
{"t":5.950,"c1":1.0,"c2":7.2,"i1":0.0,"i2":1.2,"o1":0.6,"o2":2.3},
{"t":5.975,"c1":0.9,"c2":7.6,"i1":-0.1,"i2":1.0,"o1":0.7,"o2":2.5},
{"t":6.000,"c1":1.2,"c2":7.4,"i1":-0.1,"i2":0.9,"o1":0.6,"o2":2.4},
{"t":6.025,"c1":1.0,"c2":7.8,"i1":0.0,"i2":1.0,"o1":0.7,"o2":2.6},
{"t":6.050,"c1":1.3,"c2":7.5,"i1":-0.1,"i2":0.9,"o1":0.8,"o2":2.5},
{"t":6.075,"c1":0.9,"c2":8.0,"i1":0.0,"i2":1.0,"o1":0.7,"o2":2.7},
{"t":6.100,"c1":1.2,"c2":7.6,"i1":-0.1,"i2":0.8,"o1":0.8,"o2":2.4},
{"t":6.125,"c1":1.0,"c2":8.2,"i1":0.0,"i2":1.0,"o1":0.7,"o2":2.6},
{"t":6.150,"c1":1.4,"c2":7.8,"i1":-0.1,"i2":0.9,"o1":0.8,"o2":2.5},
{"t":6.175,"c1":1.1,"c2":8.0,"i1":0.0,"i2":1.1,"o1":0.7,"o2":2.7},
{"t":6.200,"c1":1.3,"c2":7.7,"i1":-0.1,"i2":0.9,"o1":0.6,"o2":2.4},
{"t":6.225,"c1":1.0,"c2":8.3,"i1":0.0,"i2":1.0,"o1":0.7,"o2":2.6},
{"t":6.250,"c1":1.4,"c2":7.9,"i1":-0.1,"i2":0.9,"o1":0.8,"o2":2.5},
{"t":6.275,"c1":1.1,"c2":8.1,"i1":0.0,"i2":1.1,"o1":0.7,"o2":2.8},
{"t":6.300,"c1":1.3,"c2":7.8,"i1":-0.1,"i2":0.9,"o1":0.8,"o2":2.5},
{"t":6.325,"c1":1.0,"c2":8.4,"i1":0.0,"i2":1.0,"o1":0.7,"o2":2.6},
{"t":6.350,"c1":1.4,"c2":8.0,"i1":-0.1,"i2":0.9,"o1":0.6,"o2":2.4},
{"t":6.375,"c1":1.1,"c2":8.2,"i1":0.0,"i2":1.1,"o1":0.7,"o2":2.7},
{"t":6.400,"c1":1.3,"c2":7.9,"i1":-0.1,"i2":0.9,"o1":0.8,"o2":2.5},
{"t":6.425,"c1":1.0,"c2":8.4,"i1":0.0,"i2":1.0,"o1":0.7,"o2":2.6},
{"t":6.450,"c1":1.4,"c2":8.1,"i1":-0.1,"i2":0.9,"o1":0.6,"o2":2.4},
{"t":6.475,"c1":1.1,"c2":8.3,"i1":0.0,"i2":1.1,"o1":0.7,"o2":2.7}
],
"sc":[
{"t":2.0096,"p":24.0},{"t":2.0264,"p":15.0},{"t":2.036,"p":22.7},{"t":2.0516,"p":22.7},{"t":2.0683,"p":22.7},{"t":2.0875,"p":17.4},{"t":2.1019,"p":22.7},{"t":2.1223,"p":24.5},{"t":2.1319,"p":19.2},{"t":2.1463,"p":25.1},{"t":2.1595,"p":22.7},{"t":2.1763,"p":21.0},{"t":2.2194,"p":24.5},{"t":2.2362,"p":16.8},{"t":2.2614,"p":22.7},{"t":2.3118,"p":23.9},{"t":2.3261,"p":16.8},{"t":2.3441,"p":21.0},{"t":2.3633,"p":21.0},{"t":2.4077,"p":21.0},{"t":2.4221,"p":18.6},{"t":2.4341,"p":20.4},{"t":2.4652,"p":23.3},{"t":2.482,"p":15.6},{"t":2.5036,"p":21.0},{"t":2.5192,"p":22.7},{"t":2.5336,"p":21.8},{"t":2.5456,"p":21.0},{"t":2.56,"p":21.0},{"t":2.578,"p":18.0},{"t":2.5875,"p":18.0},{"t":2.6019,"p":18.0},{"t":2.6235,"p":14.4},
{"t":2.645,"p":13.0},{"t":2.665,"p":12.0},{"t":2.69,"p":11.5},{"t":2.715,"p":10.5},{"t":2.74,"p":9.8},{"t":2.77,"p":8.6},
{"t":3.81,"p":6.3},{"t":3.95,"p":6.7},{"t":4.3244,"p":10.8},{"t":4.47,"p":8.2},{"t":4.822,"p":13.2},{"t":4.97,"p":8.6},{"t":5.10,"p":9.5},{"t":5.145,"p":13.2},{"t":5.2767,"p":13.8},{"t":5.435,"p":10.8},{"t":5.583,"p":13.8},
{"t":5.9233,"p":10.2},{"t":5.9413,"p":15.6},{"t":5.9568,"p":15.0},{"t":5.9784,"p":11.4},{"t":5.9964,"p":10.8},{"t":6.0084,"p":10.8},{"t":6.0348,"p":13.8},{"t":6.0468,"p":12.6},{"t":6.0588,"p":13.2},{"t":6.0683,"p":16.2},{"t":6.0767,"p":14.4},{"t":6.0983,"p":19.2},{"t":6.1151,"p":13.8},{"t":6.1295,"p":20.4},{"t":6.1451,"p":13.8},{"t":6.1547,"p":16.8},{"t":6.1811,"p":22.7},{"t":6.1967,"p":13.2},{"t":6.2207,"p":21.0},{"t":6.235,"p":12.6},{"t":6.2506,"p":15.0},{"t":6.265,"p":21.6},{"t":6.2842,"p":24.5},{"t":6.3022,"p":21.0},{"t":6.3226,"p":19.8},{"t":6.3465,"p":21.6},{"t":6.3621,"p":19.2},{"t":6.3789,"p":19.8},{"t":6.3945,"p":23.3},{"t":6.4101,"p":10.8},{"t":6.422,"p":23.3},{"t":6.4424,"p":22.7},{"t":6.464,"p":23.3}
],
"si":[
{"t":2.0096,"p":10.68},{"t":2.0336,"p":9.03},{"t":2.0504,"p":10.44},{"t":2.0683,"p":7.85},{"t":2.0875,"p":8.09},{"t":2.1055,"p":7.85},{"t":2.1199,"p":8.32},{"t":2.1463,"p":9.74},{"t":2.1619,"p":8.79},{"t":2.1763,"p":7.15},{"t":2.2194,"p":10.2},{"t":2.2338,"p":5.26},{"t":2.2434,"p":8.56},{"t":2.2614,"p":4.56},{"t":2.2722,"p":8.56},{"t":2.3118,"p":6.44},{"t":2.3261,"p":6.2},{"t":2.3417,"p":10.2},{"t":2.3621,"p":9.6},{"t":2.3897,"p":5.73},{"t":2.4077,"p":7.62},{"t":2.4197,"p":6.2},{"t":2.4317,"p":5.73},{"t":2.4652,"p":8.56},{"t":2.4796,"p":4.79},{"t":2.5036,"p":8.56},{"t":2.518,"p":8.32},{"t":2.5336,"p":5.26},{"t":2.56,"p":9.97},{"t":2.5755,"p":6.44},{"t":2.5935,"p":6.44},{"t":2.6055,"p":5.26},{"t":2.6271,"p":5.5},
{"t":2.66,"p":4.2},{"t":2.70,"p":3.6},{"t":2.76,"p":3.4},
{"t":3.81,"p":2.77},{"t":4.12,"p":2.7},{"t":4.3244,"p":4.56},{"t":4.822,"p":4.56},{"t":5.145,"p":4.56},{"t":5.2767,"p":4.56},{"t":5.435,"p":3.14},{"t":5.583,"p":4.32},
{"t":5.8465,"p":2.67},{"t":5.8633,"p":2.67},{"t":5.8813,"p":2.2},{"t":5.8969,"p":1.97},{"t":5.9185,"p":3.38},{"t":5.9305,"p":1.73},{"t":5.9545,"p":4.32},{"t":5.9784,"p":2.44},{"t":5.9988,"p":2.2},{"t":6.0144,"p":2.91},{"t":6.0348,"p":2.2},{"t":6.0504,"p":2.91},{"t":6.0612,"p":3.14},{"t":6.0767,"p":3.85},{"t":6.1007,"p":6.2},{"t":6.1163,"p":3.85},{"t":6.1295,"p":5.5},{"t":6.1547,"p":5.59},{"t":6.1811,"p":4.32},{"t":6.1967,"p":2.67},{"t":6.2207,"p":6.68},{"t":6.235,"p":3.38},{"t":6.2506,"p":4.09},{"t":6.265,"p":9.26},{"t":6.2842,"p":8.32},{"t":6.3022,"p":7.62},{"t":6.3226,"p":9.03},{"t":6.3465,"p":8.32},{"t":6.3621,"p":5.73},{"t":6.3765,"p":7.38},{"t":6.3945,"p":5.73},{"t":6.422,"p":9.03},{"t":6.4424,"p":6.91},{"t":6.464,"p":8.56}
],
"so":[
{"t":2.0036,"p":4.41},{"t":2.0096,"p":6.31},{"t":2.03,"p":7.49},{"t":2.0504,"p":5.59},{"t":2.06,"p":4.65},{"t":2.0839,"p":6.87},{"t":2.0899,"p":8.44},{"t":2.1019,"p":8.3},{"t":2.1259,"p":4.65},{"t":2.1583,"p":6.78},{"t":2.1835,"p":6.07},{"t":2.2038,"p":4.88},{"t":2.2314,"p":4.41},{"t":2.2542,"p":4.65},{"t":2.2734,"p":4.88},{"t":2.2878,"p":5.59},{"t":2.3118,"p":4.65},{"t":2.3513,"p":4.41},{"t":2.3861,"p":4.41},{"t":2.4017,"p":5.36},{"t":2.4317,"p":3.7},{"t":2.446,"p":5.59},{"t":2.4736,"p":4.41},{"t":2.524,"p":7.02},{"t":2.5516,"p":5.36},{"t":2.5839,"p":4.41},{"t":2.6235,"p":4.41},{"t":2.6499,"p":4.17},{"t":2.705,"p":5.59},{"t":2.7494,"p":4.17},{"t":2.7638,"p":4.17},{"t":2.8034,"p":4.17},{"t":2.8393,"p":3.93},{"t":2.8753,"p":3.93},
{"t":2.887,"p":3.7},{"t":2.927,"p":4.41},{"t":3.022,"p":4.17},{"t":3.066,"p":3.93},{"t":3.141,"p":4.41},{"t":3.228,"p":4.65},{"t":3.283,"p":4.41},{"t":3.339,"p":4.17},{"t":3.386,"p":3.93},{"t":3.426,"p":4.41},{"t":3.489,"p":3.7},{"t":3.545,"p":3.93},{"t":3.608,"p":4.41},{"t":3.687,"p":3.93},{"t":3.751,"p":3.93},{"t":3.814,"p":3.7},{"t":3.877,"p":4.17},{"t":3.941,"p":3.7},{"t":4.004,"p":3.93},{"t":4.107,"p":3.93},{"t":4.163,"p":4.65},{"t":4.226,"p":3.7},{"t":4.29,"p":3.93},{"t":4.385,"p":3.7},{"t":4.464,"p":3.7},{"t":4.543,"p":3.93},{"t":4.622,"p":3.7},{"t":4.733,"p":3.46},{"t":4.813,"p":3.46},{"t":4.955,"p":3.93},{"t":5.05,"p":3.7},{"t":5.145,"p":3.46},{"t":5.24,"p":3.46},{"t":5.319,"p":3.7},
{"t":5.363,"p":3.93},{"t":5.441,"p":3.46},{"t":5.501,"p":3.46},{"t":5.591,"p":3.46},{"t":5.657,"p":3.23},{"t":5.741,"p":3.7},{"t":5.819,"p":3.46},{"t":5.885,"p":3.23},{"t":6.005,"p":3.23},{"t":6.065,"p":3.46},{"t":6.17,"p":4.41},{"t":6.221,"p":3.46},{"t":6.265,"p":4.65},{"t":6.341,"p":3.46},{"t":6.395,"p":3.7},{"t":6.442,"p":3.46},
{"t":2.905,"p":3.3},{"t":2.955,"p":3.5},{"t":2.99,"p":3.2},{"t":3.04,"p":3.6},{"t":3.085,"p":3.3},{"t":3.12,"p":3.8},{"t":3.175,"p":3.4},{"t":3.205,"p":3.2},{"t":3.255,"p":3.6},{"t":3.31,"p":3.3},{"t":3.36,"p":3.5},{"t":3.405,"p":3.2},{"t":3.455,"p":3.6},{"t":3.515,"p":3.3},{"t":3.57,"p":3.5},{"t":3.585,"p":3.2},{"t":3.635,"p":3.4},{"t":3.66,"p":3.7},{"t":3.715,"p":3.3},{"t":3.78,"p":3.5},{"t":3.84,"p":3.3},{"t":3.905,"p":3.5},{"t":3.965,"p":3.2},{"t":4.03,"p":3.4},{"t":4.065,"p":3.6},{"t":4.135,"p":3.3},{"t":4.19,"p":3.5},{"t":4.255,"p":3.3},{"t":4.32,"p":3.6},{"t":4.355,"p":3.2},{"t":4.42,"p":3.4},{"t":4.49,"p":3.3},{"t":4.58,"p":3.2},{"t":4.66,"p":3.4},{"t":4.70,"p":3.1},{"t":4.77,"p":3.3},{"t":4.86,"p":3.2},{"t":4.90,"p":3.5},{"t":5.0,"p":3.2},{"t":5.10,"p":3.3},{"t":5.19,"p":3.2},{"t":5.28,"p":3.4},{"t":5.40,"p":3.2},{"t":5.55,"p":3.1},{"t":5.70,"p":3.2},{"t":5.95,"p":3.0},{"t":6.10,"p":3.2},{"t":6.30,"p":3.1},{"t":6.42,"p":3.2}
],
"te":[
{"t":2.012,"Te":0.92},{"t":2.052,"Te":1.32},{"t":2.066,"Te":1.35},{"t":2.098,"Te":1.35},{"t":2.116,"Te":1.38},{"t":2.146,"Te":1.20},{"t":2.165,"Te":1.22},{"t":2.201,"Te":1.32},{"t":2.216,"Te":1.55},{"t":2.246,"Te":1.46},{"t":2.266,"Te":1.38},{"t":2.297,"Te":1.24},{"t":2.318,"Te":1.04},{"t":2.348,"Te":1.28},{"t":2.369,"Te":1.35},{"t":2.396,"Te":1.67},{"t":2.417,"Te":1.47},{"t":2.450,"Te":1.33},{"t":2.465,"Te":1.08},{"t":2.500,"Te":1.71},{"t":2.518,"Te":1.35},{"t":2.548,"Te":1.08},{"t":2.567,"Te":1.14},{"t":2.600,"Te":1.02},{"t":2.618,"Te":1.16},{"t":2.647,"Te":1.12},{"t":2.668,"Te":0.94},{"t":2.698,"Te":1.38},{"t":2.717,"Te":1.24},{"t":2.747,"Te":1.04},{"t":2.767,"Te":1.24},{"t":2.797,"Te":1.04},{"t":2.818,"Te":0.83},{"t":2.848,"Te":1.46},
{"t":2.863,"Te":1.38},{"t":2.903,"Te":1.14},{"t":2.942,"Te":1.14},{"t":2.966,"Te":1.04},{"t":3.006,"Te":1.20},{"t":3.019,"Te":1.38},{"t":3.050,"Te":1.18},{"t":3.066,"Te":1.16},{"t":3.101,"Te":1.04},{"t":3.114,"Te":1.00},{"t":3.148,"Te":1.04},{"t":3.172,"Te":1.16},{"t":3.200,"Te":0.96},{"t":3.220,"Te":1.24},{"t":3.251,"Te":1.04},{"t":3.267,"Te":1.04},{"t":3.299,"Te":1.47},{"t":3.320,"Te":1.24},{"t":3.355,"Te":1.04},{"t":3.370,"Te":1.08},{"t":3.402,"Te":1.18},{"t":3.418,"Te":1.12},{"t":3.450,"Te":1.99},{"t":3.470,"Te":1.04},{"t":3.505,"Te":0.96},{"t":3.521,"Te":1.18},{"t":3.549,"Te":1.59},{"t":3.573,"Te":1.25},{"t":3.600,"Te":1.87},{"t":3.621,"Te":0.80},{"t":3.651,"Te":1.08},{"t":3.671,"Te":1.18},{"t":3.703,"Te":1.39},{"t":3.719,"Te":0.91},{"t":3.751,"Te":1.42},{"t":3.770,"Te":1.00},{"t":3.809,"Te":1.04},{"t":3.822,"Te":1.16},{"t":3.862,"Te":1.08},{"t":3.874,"Te":1.25},{"t":3.906,"Te":0.75},{"t":3.922,"Te":1.08},{"t":3.954,"Te":0.91},{"t":3.973,"Te":1.12},{"t":4.001,"Te":0.84},{"t":4.023,"Te":1.22},{"t":4.055,"Te":0.71},{"t":4.071,"Te":1.24},{"t":4.107,"Te":0.84},{"t":4.123,"Te":1.43},{"t":4.155,"Te":0.92},{"t":4.171,"Te":1.14},{"t":4.202,"Te":1.33},{"t":4.218,"Te":1.12},{"t":4.255,"Te":0.80},{"t":4.270,"Te":1.20},{"t":4.302,"Te":1.00},{"t":4.313,"Te":1.14},{"t":4.353,"Te":0.84},{"t":4.373,"Te":1.14},{"t":4.403,"Te":0.92},{"t":4.424,"Te":1.16},{"t":4.456,"Te":1.04},{"t":4.471,"Te":1.00},{"t":4.503,"Te":1.18},{"t":4.519,"Te":1.04},{"t":4.556,"Te":1.04},{"t":4.571,"Te":1.16},{"t":4.603,"Te":1.22},{"t":4.622,"Te":1.43},{"t":4.654,"Te":1.16},{"t":4.670,"Te":1.10},{"t":4.702,"Te":1.55},{"t":4.721,"Te":1.04},{"t":4.754,"Te":1.04},{"t":4.773,"Te":1.16},{"t":4.805,"Te":1.04},{"t":4.821,"Te":1.43},{"t":4.857,"Te":1.16},{"t":4.873,"Te":0.92},{"t":4.908,"Te":0.96},{"t":4.924,"Te":1.08},{"t":4.952,"Te":1.12},{"t":4.971,"Te":1.10},{"t":5.003,"Te":0.88},{"t":5.019,"Te":1.00},{"t":5.058,"Te":0.73},{"t":5.066,"Te":1.24},{"t":5.103,"Te":1.20},{"t":5.122,"Te":1.14},{"t":5.153,"Te":1.24},{"t":5.169,"Te":0.88},{"t":5.206,"Te":0.88},{"t":5.220,"Te":1.20},{"t":5.256,"Te":1.20},{"t":5.272,"Te":0.92},{"t":5.304,"Te":1.04},
{"t":5.321,"Te":1.05},{"t":5.357,"Te":0.86},{"t":5.399,"Te":1.04},{"t":5.417,"Te":1.02},{"t":5.447,"Te":0.94},{"t":5.468,"Te":0.94},{"t":5.501,"Te":1.22},{"t":5.519,"Te":1.09},{"t":5.553,"Te":1.02},{"t":5.567,"Te":1.24},{"t":5.603,"Te":0.80},{"t":5.621,"Te":0.91},{"t":5.651,"Te":1.09},{"t":5.669,"Te":1.02},{"t":5.703,"Te":0.84},{"t":5.719,"Te":1.00},{"t":5.753,"Te":1.08},{"t":5.769,"Te":0.84},{"t":5.801,"Te":1.08},{"t":5.819,"Te":1.00},{"t":5.855,"Te":1.00},{"t":5.867,"Te":1.08},{"t":5.901,"Te":1.20},{"t":5.921,"Te":1.08},{"t":5.949,"Te":1.29},{"t":5.967,"Te":1.22},{"t":6.002,"Te":1.20},{"t":6.020,"Te":1.35},{"t":6.053,"Te":1.16},{"t":6.068,"Te":0.96},{"t":6.101,"Te":1.20},{"t":6.119,"Te":1.12},{"t":6.155,"Te":1.00},{"t":6.170,"Te":1.25},{"t":6.203,"Te":1.16},{"t":6.221,"Te":1.16},{"t":6.254,"Te":1.12},{"t":6.269,"Te":0.92},{"t":6.305,"Te":0.92},{"t":6.322,"Te":1.12},{"t":6.353,"Te":0.92},{"t":6.371,"Te":1.16},{"t":6.403,"Te":1.09},{"t":6.422,"Te":1.28},{"t":6.452,"Te":1.06},{"t":6.467,"Te":1.00}
]
},
"vconcat":[
{"width":1243,"height":96,"layer":[
{"data":{"name":"mp"},"mark":{"type":"line","strokeWidth":1.3,"clip":true},"encoding":{
"x":{"field":"t","type":"quantitative","scale":{"domain":[2,6.47],"nice":false,"zero":false},"axis":{"title":null,"labels":false}},
"y":{"field":"I","type":"quantitative","scale":{"domain":[-0.087,1.427],"nice":false,"zero":false},"axis":{"title":"kA","tickCount":15,"labelExpr":"abs(datum.value/0.4-round(datum.value/0.4))<0.001 ? format(datum.value,'.1f') : ''","tickSize":{"condition":{"test":"abs(datum.value/0.4-round(datum.value/0.4))<0.001","value":-9},"value":-4}}},
"color":{"field":"circuit","type":"nominal","scale":{"domain":["#1","#2"],"range":["#ffa500","#33cc33"]},"legend":null}}},
{"data":{"values":[{"zero":0}]},"mark":{"type":"rule","color":"black","strokeWidth":1,"strokeDash":[9,7]},"encoding":{"y":{"field":"zero","type":"quantitative"}}},
{"data":{"values":[{"t":2.64,"y":0.5,"label":"MP coil current"},{"t":4.662,"y":0.248,"label":"ASDEX Upgrade #31128"}]},"mark":{"type":"text","align":"left","baseline":"alphabetic","fontSize":28,"color":"black"},"encoding":{"x":{"field":"t","type":"quantitative"},"y":{"field":"y","type":"quantitative"},"text":{"field":"label"}}},
{"data":{"values":[{"t":3.442,"y":0.753,"label":"(circuit #1, even parity)"}]},"mark":{"type":"text","align":"left","baseline":"alphabetic","fontSize":21,"color":"#ffa500"},"encoding":{"x":{"field":"t","type":"quantitative"},"y":{"field":"y","type":"quantitative"},"text":{"field":"label"}}},
{"data":{"values":[{"t":3.442,"y":0.248,"label":"(circuit #2, odd parity)"}]},"mark":{"type":"text","align":"left","baseline":"alphabetic","fontSize":21,"color":"#33cc33"},"encoding":{"x":{"field":"t","type":"quantitative"},"y":{"field":"y","type":"quantitative"},"text":{"field":"label"}}}
]},
{"width":1243,"height":96,"layer":[
{"data":{"name":"s"},"mark":{"type":"line","strokeWidth":1.2,"color":"#33bb33","clip":true},"encoding":{
"x":{"field":"t","type":"quantitative","scale":{"domain":[2,6.47],"nice":false,"zero":false},"axis":{"title":null,"labels":false}},
"y":{"field":"W","type":"quantitative","scale":{"domain":[1.08,7.04],"nice":false,"zero":false},"axis":{"title":"10¹⁹ m⁻³  100 kJ","titleFontSize":20,"titleY":41,"tickCount":30,"labelExpr":"abs(datum.value/2-round(datum.value/2))<0.001 ? ''+round(datum.value) : ''","tickSize":{"condition":{"test":"abs(datum.value/2-round(datum.value/2))<0.001","value":-9},"value":-4}}}}},
{"data":{"name":"s"},"mark":{"type":"line","strokeWidth":1.2,"color":"#0000ff","clip":true},"encoding":{"x":{"field":"t","type":"quantitative"},"y":{"field":"nc","type":"quantitative"}}},
{"data":{"name":"s"},"mark":{"type":"line","strokeWidth":1.2,"color":"#ff0000","clip":true},"encoding":{"x":{"field":"t","type":"quantitative"},"y":{"field":"np","type":"quantitative"}}},
{"data":{"values":[{"t":2.838,"y":5.26,"label":"MHD stored energy"}]},"mark":{"type":"text","align":"left","baseline":"alphabetic","fontSize":28,"color":"#118811"},"encoding":{"x":{"field":"t","type":"quantitative"},"y":{"field":"y","type":"quantitative"},"text":{"field":"label"}}},
{"data":{"values":[{"t":3.909,"y":5.26,"label":"Line-averaged density"}]},"mark":{"type":"text","align":"left","baseline":"alphabetic","fontSize":28,"color":"black"},"encoding":{"x":{"field":"t","type":"quantitative"},"y":{"field":"y","type":"quantitative"},"text":{"field":"label"}}},
{"data":{"values":[{"t":4.978,"y":5.18,"label":"(central)"}]},"mark":{"type":"text","align":"left","baseline":"alphabetic","fontSize":21,"color":"#0000ff"},"encoding":{"x":{"field":"t","type":"quantitative"},"y":{"field":"y","type":"quantitative"},"text":{"field":"label"}}},
{"data":{"values":[{"t":5.288,"y":5.18,"label":"(peripheral)"}]},"mark":{"type":"text","align":"left","baseline":"alphabetic","fontSize":21,"color":"#ff0000"},"encoding":{"x":{"field":"t","type":"quantitative"},"y":{"field":"y","type":"quantitative"},"text":{"field":"label"}}}
]},
{"width":1243,"height":96,"layer":[
{"data":{"name":"b"},"mark":{"type":"area","color":"black","stroke":"black","strokeWidth":0.6,"clip":true},"encoding":{
"x":{"field":"t","type":"quantitative","scale":{"domain":[2,6.47],"nice":false,"zero":false},"axis":{"title":null,"labels":false}},
"y":{"field":"c2","type":"quantitative","scale":{"domain":[-2.4,32],"nice":false,"zero":false},"axis":{"title":"kA","tickCount":17,"labelExpr":"abs(datum.value/10-round(datum.value/10))<0.001 ? ''+round(datum.value) : ''","tickSize":{"condition":{"test":"abs(datum.value/10-round(datum.value/10))<0.001","value":-9},"value":-4}}},
"y2":{"field":"c1"}}},
{"data":{"name":"sc"},"mark":{"type":"rule","color":"black","strokeWidth":1.2,"clip":true},"encoding":{"x":{"field":"t","type":"quantitative"},"y":{"field":"p","type":"quantitative"},"y2":{"datum":5}}},
{"data":{"values":[{"t":2.737,"y":20.96,"label":"Outer divertor current"}]},"mark":{"type":"text","align":"left","baseline":"alphabetic","fontSize":28,"color":"black"},"encoding":{"x":{"field":"t","type":"quantitative"},"y":{"field":"y","type":"quantitative"},"text":{"field":"label"}}}
]},
{"width":1243,"height":96,"layer":[
{"data":{"name":"b"},"mark":{"type":"area","color":"black","stroke":"black","strokeWidth":0.6,"clip":true},"encoding":{
"x":{"field":"t","type":"quantitative","scale":{"domain":[2,6.47],"nice":false,"zero":false},"axis":{"title":null,"labels":false}},
"y":{"field":"i2","type":"quantitative","scale":{"domain":[-0.82,12.82],"nice":false,"zero":false},"axis":{"title":"MW","tickCount":13,"labelExpr":"abs(datum.value/4-round(datum.value/4))<0.001 ? ''+round(datum.value) : ''","tickSize":{"condition":{"test":"abs(datum.value/4-round(datum.value/4))<0.001","value":-9},"value":-4}}},
"y2":{"field":"i1"}}},
{"data":{"name":"si"},"mark":{"type":"rule","color":"black","strokeWidth":1.2,"clip":true},"encoding":{"x":{"field":"t","type":"quantitative"},"y":{"field":"p","type":"quantitative"},"y2":{"datum":1}}},
{"data":{"values":[{"t":2.731,"y":7.85,"label":"Inner divertor power (IR thermography)"}]},"mark":{"type":"text","align":"left","baseline":"alphabetic","fontSize":28,"color":"black"},"encoding":{"x":{"field":"t","type":"quantitative"},"y":{"field":"y","type":"quantitative"},"text":{"field":"label"}}}
]},
{"width":1243,"height":96,"layer":[
{"data":{"name":"b"},"mark":{"type":"area","color":"black","stroke":"black","strokeWidth":0.6,"clip":true},"encoding":{
"x":{"field":"t","type":"quantitative","scale":{"domain":[2,6.47],"nice":false,"zero":false},"axis":{"title":null,"labels":false}},
"y":{"field":"o2","type":"quantitative","scale":{"domain":[-0.7,13.04],"nice":false,"zero":false},"axis":{"title":"MW","tickCount":13,"labelExpr":"abs(datum.value/4-round(datum.value/4))<0.001 ? ''+round(datum.value) : ''","tickSize":{"condition":{"test":"abs(datum.value/4-round(datum.value/4))<0.001","value":-9},"value":-4}}},
"y2":{"field":"o1"}}},
{"data":{"name":"so"},"mark":{"type":"rule","color":"black","strokeWidth":1.2,"clip":true},"encoding":{"x":{"field":"t","type":"quantitative"},"y":{"field":"p","type":"quantitative"},"y2":{"datum":1.5}}},
{"data":{"values":[{"t":2.725,"y":8.2,"label":"Outer divertor power (IR thermography)"}]},"mark":{"type":"text","align":"left","baseline":"alphabetic","fontSize":28,"color":"black"},"encoding":{"x":{"field":"t","type":"quantitative"},"y":{"field":"y","type":"quantitative"},"text":{"field":"label"}}}
]},
{"width":1243,"height":96,"layer":[
{"data":{"name":"s"},"mark":{"type":"line","strokeWidth":1.2,"color":"#ff0000","clip":true},"encoding":{
"x":{"field":"t","type":"quantitative","scale":{"domain":[2,6.47],"nice":false,"zero":false},"axis":{"title":null,"labels":false}},
"y":{"field":"Ti","type":"quantitative","scale":{"domain":[-0.113,2.16],"nice":false,"zero":false},"axis":{"title":"keV","tickCount":22,"labelExpr":"abs(datum.value/0.5-round(datum.value/0.5))<0.001 ? format(datum.value,'.1f') : ''","tickSize":{"condition":{"test":"abs(datum.value/0.5-round(datum.value/0.5))<0.001","value":-9},"value":-4}}}}},
{"data":{"name":"te"},"mark":{"type":"point","shape":"triangle-up","size":110,"filled":false,"stroke":"#0000ff","strokeWidth":1.3,"opacity":1,"clip":true},"encoding":{"x":{"field":"t","type":"quantitative"},"y":{"field":"Te","type":"quantitative"}}},
{"data":{"values":[{"t":2.428,"y":0.01,"label":"Pedestal temperature:"}]},"mark":{"type":"text","align":"left","baseline":"alphabetic","fontSize":28,"color":"black"},"encoding":{"x":{"field":"t","type":"quantitative"},"y":{"field":"y","type":"quantitative"},"text":{"field":"label"}}},
{"data":{"values":[{"t":3.505,"y":0.01,"label":"Electrons (TS)"}]},"mark":{"type":"text","align":"left","baseline":"alphabetic","fontSize":28,"color":"#0000ff"},"encoding":{"x":{"field":"t","type":"quantitative"},"y":{"field":"y","type":"quantitative"},"text":{"field":"label"}}},
{"data":{"values":[{"t":4.286,"y":0.01,"label":"B impurity (CXRS)"}]},"mark":{"type":"text","align":"left","baseline":"alphabetic","fontSize":28,"color":"#ff0000"},"encoding":{"x":{"field":"t","type":"quantitative"},"y":{"field":"y","type":"quantitative"},"text":{"field":"label"}}}
]},
{"width":1243,"height":96,"layer":[
{"data":{"name":"s"},"mark":{"type":"line","strokeWidth":1.2,"color":"#ff0000","clip":true},"encoding":{
"x":{"field":"t","type":"quantitative","scale":{"domain":[2,6.47],"nice":false,"zero":false},"axis":{"title":"Time (s)","titleY":34,"titleBaseline":"top"}},
"y":{"field":"v87","type":"quantitative","scale":{"domain":[-44.5,91.4],"nice":false,"zero":false},"axis":{"title":"km/s","tickCount":27,"labelExpr":"abs(datum.value/40-round(datum.value/40))<0.001 ? ''+round(datum.value) : ''","tickSize":{"condition":{"test":"abs(datum.value/40-round(datum.value/40))<0.001","value":-9},"value":-4}}}}},
{"data":{"name":"s"},"mark":{"type":"line","strokeWidth":1.2,"color":"#008800","clip":true},"encoding":{"x":{"field":"t","type":"quantitative"},"y":{"field":"v93","type":"quantitative"}}},
{"data":{"values":[{"zero":0}]},"mark":{"type":"rule","color":"black","strokeWidth":1,"strokeDash":[9,7]},"encoding":{"y":{"field":"zero","type":"quantitative"}}},
{"data":{"name":"vb"},"mark":{"type":"line","strokeWidth":1.3,"color":"#0000ff","clip":true},"encoding":{"x":{"field":"t","type":"quantitative"},"y":{"field":"v","type":"quantitative"}}},
{"data":{"values":[{"t":3.378,"y":59.9,"label":"ρₚ = 0.87"}]},"mark":{"type":"text","align":"left","baseline":"alphabetic","fontSize":28,"color":"#ff0000"},"encoding":{"x":{"field":"t","type":"quantitative"},"y":{"field":"y","type":"quantitative"},"text":{"field":"label"}}},
{"data":{"values":[{"t":4.527,"y":15.3,"label":"ρₚ = 0.93"}]},"mark":{"type":"text","align":"left","baseline":"alphabetic","fontSize":28,"color":"#008800"},"encoding":{"x":{"field":"t","type":"quantitative"},"y":{"field":"y","type":"quantitative"},"text":{"field":"label"}}},
{"data":{"values":[{"t":2.708,"y":-34.5,"label":"B impurity rotation velocity:"}]},"mark":{"type":"text","align":"left","baseline":"alphabetic","fontSize":28,"color":"black"},"encoding":{"x":{"field":"t","type":"quantitative"},"y":{"field":"y","type":"quantitative"},"text":{"field":"label"}}},
{"data":{"values":[{"t":4.076,"y":-35,"label":"ρₚ = 0.99 (gradient region)"}]},"mark":{"type":"text","align":"left","baseline":"alphabetic","fontSize":28,"color":"#0000ff"},"encoding":{"x":{"field":"t","type":"quantitative"},"y":{"field":"y","type":"quantitative"},"text":{"field":"label"}}}
]}
]
}
